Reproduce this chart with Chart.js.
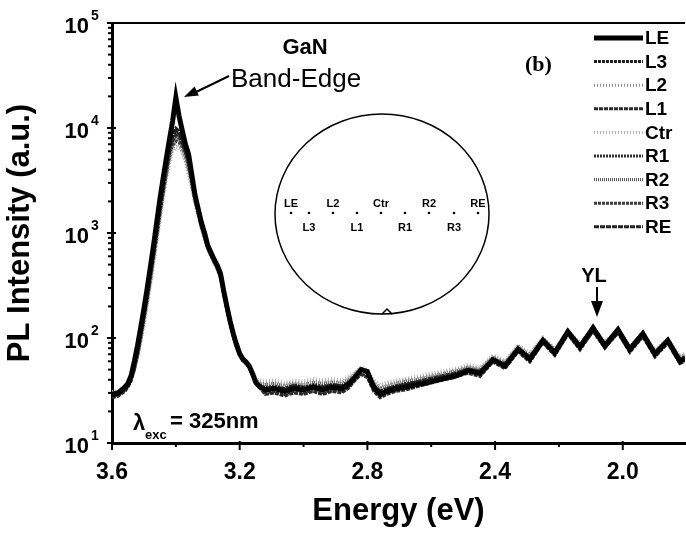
<!DOCTYPE html>
<html>
<head>
<meta charset="utf-8">
<script src="https://cdn.jsdelivr.net/npm/chart.js@4.4.1/dist/chart.umd.min.js"></script>
<style>
  html, body { margin: 0; padding: 0; background: #fff; }
  #plChart { display: block; }
</style>
</head>
<body>
<canvas id="plChart" width="686" height="536"></canvas>
<script>
// photon energy (eV), shared by all spectra
const energy = [3.60, 3.58, 3.56, 3.55, 3.54, 3.53, 3.52, 3.51, 3.50, 3.49, 3.48, 3.47, 3.46, 3.45, 3.44, 3.43, 3.42, 3.41, 3.40,
    3.39, 3.38, 3.37, 3.36, 3.35, 3.34, 3.33, 3.32, 3.31, 3.30, 3.29, 3.28, 3.27, 3.26, 3.25, 3.24, 3.23, 3.22, 3.21, 3.20,
    3.19, 3.18, 3.17, 3.16, 3.15, 3.14, 3.12,
    3.09, 3.06, 3.03, 3.00, 2.97, 2.94, 2.91, 2.88, 2.86, 2.84, 2.82, 2.80, 2.78, 2.76, 2.74, 2.71, 2.68, 2.65, 2.62, 2.59, 2.56, 2.53, 2.51,
    2.485, 2.447, 2.407, 2.369, 2.328, 2.291, 2.250, 2.213, 2.172, 2.134, 2.093, 2.056, 2.015, 1.978, 1.937, 1.899, 1.859, 1.821, 1.805];

const seriesNames = ['LE', 'L3', 'L2', 'L1', 'Ctr', 'R1', 'R2', 'R3', 'RE'];

const plLE = [29, 30, 34, 37, 44, 60, 85, 126, 190,
    295, 470, 760, 1260, 2090, 3300, 5100, 7800, 11700, 19500,
    13000, 9500, 7000, 5600, 3600, 2300, 1700, 1260, 1000, 760, 650,
    560, 490, 410, 280, 200, 145, 110, 87, 71, 63, 59, 54, 46, 38, 35,
    32, 33, 31, 33, 32, 34, 32, 34, 33, 36, 42, 50, 48, 34, 29, 31, 33, 34, 36, 37, 39, 41, 43, 45,
    49, 46, 62, 54, 78, 63, 95, 72, 115, 82, 125, 84, 120, 78, 110, 70, 95, 60, 64];
const plL3 = [28, 29, 32, 35, 40, 52, 72, 105, 160,
    245, 390, 620, 1000, 1650, 2600, 4000, 6000, 8300, 9500,
    9000, 7600, 6200, 4700, 3300, 2200, 1600, 1200, 950, 740, 630,
    540, 470, 390, 270, 190, 140, 105, 84, 70, 62, 58, 53, 45, 38, 35,
    33, 34, 33, 35, 34, 35, 34, 36, 35, 37, 42, 49, 47, 35, 31, 33, 35, 36, 38, 39, 41, 43, 45, 47,
    50, 48, 63, 56, 80, 66, 96, 75, 112, 85, 122, 88, 118, 80, 108, 73, 92, 62, 65];
const plL2 = [30, 31, 33, 36, 40, 50, 66, 95, 140,
    210, 330, 530, 850, 1400, 2200, 3400, 5000, 6400, 7000,
    6800, 6000, 4800, 3500, 2600, 1900, 1450, 1100, 880, 700, 600,
    520, 450, 370, 260, 185, 135, 100, 80, 68, 62, 58, 54, 47, 41, 38,
    37, 38, 36, 38, 37, 39, 38, 39, 38, 41, 46, 52, 49, 38, 34, 36, 38, 40, 41, 43, 45, 47, 49, 51,
    54, 51, 67, 59, 84, 70, 100, 78, 115, 88, 124, 90, 120, 82, 112, 76, 98, 66, 70];
const plL1 = [27, 28, 31, 34, 39, 50, 70, 102, 155,
    235, 370, 590, 950, 1550, 2450, 3800, 5600, 7600, 8500,
    8200, 7000, 5800, 4400, 3100, 2100, 1550, 1150, 920, 720, 620,
    530, 460, 385, 265, 190, 138, 104, 83, 69, 61, 57, 52, 44, 37, 34,
    29, 30, 28, 30, 29, 31, 29, 31, 30, 33, 39, 45, 42, 31, 27, 29, 31, 32, 34, 36, 38, 40, 42, 44,
    46, 43, 59, 51, 74, 59, 90, 68, 108, 77, 117, 80, 112, 73, 103, 66, 89, 57, 60];
const plCtr = [31, 32, 34, 36, 40, 48, 62, 88, 130,
    195, 300, 480, 780, 1250, 2000, 3100, 4500, 5900, 6500,
    6400, 5800, 4900, 3800, 2800, 2000, 1500, 1150, 900, 720, 610,
    520, 440, 360, 255, 180, 132, 100, 80, 69, 63, 59, 55, 49, 43, 40,
    39, 40, 38, 40, 39, 41, 40, 41, 40, 43, 47, 53, 50, 40, 36, 38, 40, 41, 43, 45, 47, 49, 51, 53,
    56, 53, 69, 61, 86, 72, 102, 80, 118, 90, 126, 93, 122, 84, 114, 78, 100, 68, 72];
const plR1 = [28, 29, 32, 35, 41, 53, 74, 108, 165,
    250, 400, 640, 1030, 1700, 2700, 4100, 6100, 8200, 9000,
    8600, 7300, 6000, 4600, 3200, 2150, 1580, 1180, 940, 730, 625,
    535, 465, 388, 268, 192, 140, 106, 85, 70, 62, 58, 53, 45, 38, 35,
    34, 35, 33, 36, 34, 36, 35, 36, 35, 38, 43, 50, 47, 35, 31, 33, 35, 37, 38, 40, 42, 44, 46, 48,
    51, 49, 64, 57, 81, 66, 98, 76, 118, 86, 128, 88, 123, 81, 113, 73, 97, 63, 66];
const plR2 = [30, 31, 33, 36, 41, 51, 68, 98, 148,
    225, 355, 570, 920, 1500, 2350, 3650, 5400, 7200, 8000,
    7800, 6800, 5600, 4200, 3000, 2050, 1520, 1130, 900, 710, 610,
    525, 455, 378, 262, 186, 137, 102, 82, 69, 62, 58, 54, 46, 40, 37,
    36, 37, 35, 37, 36, 38, 37, 38, 37, 40, 45, 51, 48, 37, 33, 35, 37, 39, 40, 42, 44, 46, 48, 50,
    53, 50, 66, 58, 83, 68, 99, 77, 114, 87, 121, 89, 117, 81, 110, 75, 95, 65, 68];
const plR3 = [29, 30, 32, 35, 40, 50, 67, 96, 145,
    220, 345, 555, 890, 1450, 2300, 3550, 5200, 6800, 7500,
    7300, 6500, 5400, 4100, 2900, 2000, 1500, 1120, 890, 705, 605,
    520, 450, 375, 258, 184, 135, 101, 81, 68, 61, 57, 53, 45, 39, 36,
    30, 31, 29, 31, 30, 32, 30, 32, 31, 34, 40, 46, 43, 32, 28, 30, 32, 34, 35, 37, 39, 41, 43, 45,
    48, 45, 61, 53, 77, 62, 92, 71, 110, 79, 115, 82, 111, 75, 104, 69, 90, 60, 63];
const plRE = [28, 29, 32, 35, 41, 54, 76, 112, 170,
    260, 415, 660, 1070, 1750, 2800, 4300, 6400, 8800, 10000,
    9400, 7900, 6400, 4900, 3400, 2250, 1620, 1200, 960, 740, 635,
    545, 470, 392, 272, 195, 142, 107, 85, 70, 62, 58, 53, 45, 38, 35,
    33, 34, 32, 35, 33, 35, 34, 35, 34, 37, 43, 50, 47, 34, 30, 32, 34, 36, 38, 40, 42, 44, 46, 48,
    51, 48, 64, 56, 81, 65, 97, 75, 117, 85, 127, 87, 122, 80, 112, 72, 96, 62, 66];

const xTickValues = [3.6, 3.2, 2.8, 2.4, 2.0];
const xMinorTicks = [3.4, 3.0, 2.6, 2.2];
const yDecades = [1, 2, 3, 4, 5];

// inset wafer map: measuring spots
const spotNames = ['LE', 'L3', 'L2', 'L1', 'Ctr', 'R1', 'R2', 'R3', 'RE'];

const allSpectra = [plLE, plL3, plL2, plL1, plCtr, plR1, plR2, plR3, plRE];
const lineColors = ['#000000', '#1e1e1e', '#8c8c8c', '#2a2a2a', '#b4b4b4', '#303030', '#5a5a5a', '#3a3a3a', '#222222'];
const lineWidths = [5, 3, 3, 3, 3, 3, 3, 3, 3];
const lineDashes = [[], [3, 1], [1, 2], [4, 1], [1, 2], [2, 1], [1, 1], [3, 1], [5, 1]];

const FONT = 'Arial, "Liberation Sans", sans-serif';

var datasets = seriesNames.map((name, k) => ({
    label: name,
    data: energy.map((e, i) => ({ x: e, y: allSpectra[k][i] })),
    borderColor: lineColors[k],
    borderWidth: lineWidths[k],
    borderDash: lineDashes[k],
    pointRadius: 0,
    tension: 0,
    fill: false
}));

function arrowHead(ctx, x1, y1, x2, y2, len, half) {
    var a = Math.atan2(y2 - y1, x2 - x1);
    ctx.beginPath();
    ctx.moveTo(x2, y2);
    ctx.lineTo(x2 - len * Math.cos(a) + half * Math.sin(a), y2 - len * Math.sin(a) - half * Math.cos(a));
    ctx.lineTo(x2 - len * Math.cos(a) - half * Math.sin(a), y2 - len * Math.sin(a) + half * Math.cos(a));
    ctx.closePath();
    ctx.fill();
}

const decorations = {
    id: 'decorations',
    afterDraw(chart) {
        const ctx = chart.ctx;
        const area = chart.chartArea;
        const xs = chart.scales.x, ys = chart.scales.y;
        ctx.save();
        ctx.fillStyle = '#000';
        ctx.strokeStyle = '#000';

        // top frame
        ctx.lineWidth = 2;
        ctx.beginPath();
        ctx.moveTo(area.left, area.top);
        ctx.lineTo(area.right, area.top);
        ctx.stroke();

        // y ticks (log) and labels
        ctx.lineWidth = 2;
        yDecades.forEach(d => {
            var py = ys.getPixelForValue(Math.pow(10, d));
            ctx.beginPath();
            ctx.moveTo(area.left - 5, py);
            ctx.lineTo(area.left + 4, py);
            ctx.stroke();
            if (d < 5) {
                for (var m = 2; m <= 9; m++) {
                    var pm = ys.getPixelForValue(m * Math.pow(10, d));
                    ctx.beginPath();
                    ctx.moveTo(area.left - 4, pm);
                    ctx.lineTo(area.left + 1, pm);
                    ctx.stroke();
                }
            }
            ctx.font = 'bold 22px ' + FONT;
            ctx.textAlign = 'right';
            ctx.textBaseline = 'alphabetic';
            ctx.fillText('10', 89, py + 10);
            ctx.font = 'bold 14px ' + FONT;
            ctx.textAlign = 'left';
            ctx.fillText(String(d), 91, py - 3);
        });

        // x ticks
        xTickValues.forEach(v => {
            var px = xs.getPixelForValue(v);
            ctx.beginPath();
            ctx.moveTo(px, area.bottom - 2);
            ctx.lineTo(px, area.bottom + 7);
            ctx.stroke();
        });
        xMinorTicks.forEach(v => {
            var px = xs.getPixelForValue(v);
            ctx.beginPath();
            ctx.moveTo(px, area.bottom - 1);
            ctx.lineTo(px, area.bottom + 4);
            ctx.stroke();
        });

        // legend
        chart.data.datasets.forEach((ds, i) => {
            var ly = 38 + i * 23.6;
            ctx.save();
            ctx.strokeStyle = ds.borderColor;
            ctx.lineWidth = ds.borderWidth;
            ctx.setLineDash(ds.borderDash);
            ctx.beginPath();
            ctx.moveTo(594, ly);
            ctx.lineTo(643, ly);
            ctx.stroke();
            ctx.restore();
            ctx.font = 'bold 19px ' + FONT;
            ctx.textAlign = 'left';
            ctx.textBaseline = 'middle';
            ctx.fillText(ds.label, 645, ly + 1);
        });

        // annotations
        ctx.textBaseline = 'alphabetic';
        ctx.textAlign = 'center';
        ctx.font = 'bold 22px ' + FONT;
        ctx.fillText('GaN', 305, 54);
        ctx.textAlign = 'left';
        ctx.font = '26px ' + FONT;
        ctx.fillText('Band-Edge', 231, 87);
        ctx.font = 'bold 22px "Liberation Serif", "Times New Roman", serif';
        ctx.fillText('(b)', 525, 71);

        // band-edge arrow
        ctx.lineWidth = 2;
        ctx.beginPath();
        ctx.moveTo(229, 76);
        ctx.lineTo(192, 94);
        ctx.stroke();
        arrowHead(ctx, 229, 76, 184, 97, 14, 5);

        // YL
        ctx.textAlign = 'center';
        ctx.font = 'bold 20px ' + FONT;
        ctx.fillText('YL', 594, 282);
        ctx.lineWidth = 2;
        ctx.beginPath();
        ctx.moveTo(597, 287);
        ctx.lineTo(597, 303);
        ctx.stroke();
        arrowHead(ctx, 597, 287, 597, 317, 16, 6);

        // excitation wavelength
        ctx.textAlign = 'left';
        ctx.font = 'bold 22px ' + FONT;
        ctx.fillText('\u03bb', 133, 430);
        ctx.font = 'bold 13px ' + FONT;
        ctx.fillText('exc', 145, 439);
        ctx.font = 'bold 22px ' + FONT;
        ctx.fillText('= 325nm', 170, 428);

        // inset wafer
        ctx.lineWidth = 1.5;
        ctx.beginPath();
        ctx.ellipse(382, 214, 107, 100, 0, 0, Math.PI * 2);
        ctx.stroke();
        ctx.beginPath();
        ctx.moveTo(382, 314);
        ctx.lineTo(387, 309);
        ctx.lineTo(392, 314);
        ctx.stroke();
        var spotX = [291, 309, 333, 357, 381, 405, 429, 454, 478];
        ctx.font = 'bold 11px ' + FONT;
        ctx.textAlign = 'center';
        spotNames.forEach((n, i) => {
            ctx.beginPath();
            ctx.arc(spotX[i], 213, 1.3, 0, Math.PI * 2);
            ctx.fill();
            if (i % 2 === 0) ctx.fillText(n, spotX[i], 207);
            else ctx.fillText(n, spotX[i], 231);
        });

        ctx.restore();
    }
};

new Chart(document.getElementById('plChart'), {
    type: 'line',
    data: { datasets: datasets },
    options: {
        responsive: false,
        animation: false,
        layout: { padding: { top: 23, right: 1, left: 0, bottom: 0 } },
        plugins: { legend: { display: false }, tooltip: { enabled: false } },
        scales: {
            x: {
                type: 'linear',
                reverse: true,
                min: 1.805,
                max: 3.6,
                afterFit: s => { s.height = 93; },
                afterBuildTicks: s => { s.ticks = xTickValues.map(v => ({ value: v })); },
                grid: { display: false, drawTicks: false },
                border: { display: true, color: '#000', width: 3 },
                ticks: {
                    color: '#000',
                    padding: 16,
                    maxRotation: 0,
                    font: { family: FONT, size: 23, weight: 'bold' },
                    callback: v => v.toFixed(1)
                },
                title: {
                    display: true,
                    text: 'Energy (eV)',
                    color: '#000',
                    padding: { top: 0, bottom: 6 },
                    font: { family: FONT, size: 31, weight: 'bold' }
                }
            },
            y: {
                type: 'logarithmic',
                min: 10,
                max: 100000,
                afterFit: s => { s.width = 112; },
                grid: { display: false, drawTicks: false },
                border: { display: true, color: '#000', width: 3 },
                ticks: { display: false },
                title: {
                    display: true,
                    text: 'PL Intensity (a.u.)',
                    color: '#000',
                    padding: { top: 2, bottom: 0 },
                    font: { family: FONT, size: 31, weight: 'bold' }
                }
            }
        }
    },
    plugins: [decorations]
});
</script>
</body>
</html>
